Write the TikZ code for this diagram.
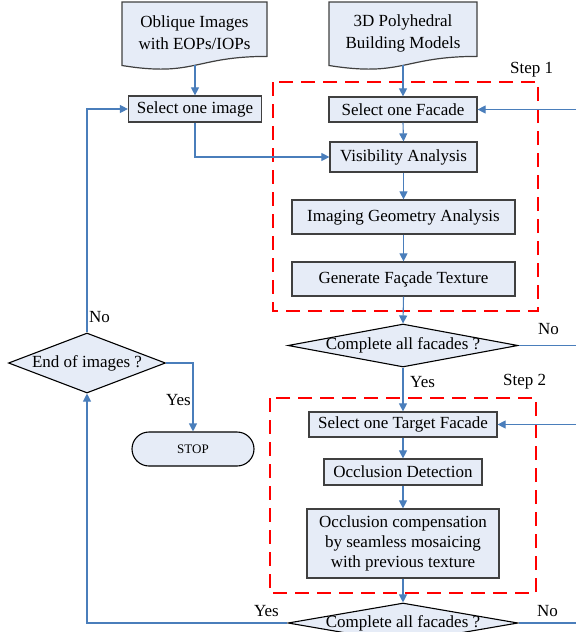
\documentclass[tikz,border=0pt]{standalone}
\usepackage{fontspec}
\setmainfont{Liberation Serif}
\usetikzlibrary{shapes.geometric,arrows.meta}
\definecolor{boxfill}{RGB}{230,236,247}
\definecolor{linkblue}{RGB}{74,126,187}
\definecolor{boxline}{RGB}{64,64,64}
\definecolor{stepred}{RGB}{255,0,0}
\tikzset{
  mainfont/.style={font=\fontsize{17}{20}\selectfont},
  proc/.style={draw=boxline, fill=boxfill, line width=1.2pt, inner sep=0pt, align=center, mainfont},
  doctext/.style={inner sep=0pt, align=center, font=\fontsize{17}{22}\selectfont},
  docshape/.style={draw=boxline, fill=boxfill, line width=1.2pt},
  dia/.style={diamond, draw=black, fill=boxfill, line width=1.1pt, inner sep=0pt},
  diatext/.style={inner sep=0pt, mainfont},
  term/.style={draw=black, fill=boxfill, line width=1.1pt, rounded corners=17pt, inner sep=0pt, font=\fontsize{13}{15}\selectfont},
  conn/.style={draw=linkblue, line width=1.1pt, -{Triangle[length=8pt,width=8pt]}},
  plainline/.style={draw=linkblue, line width=1.1pt},
  redbox/.style={draw=stepred, line width=2.6pt, dash pattern=on 14pt off 8pt},
  lab/.style={mainfont, inner sep=0pt},
}
\begin{document}
\begin{tikzpicture}[x=1pt,y=-1pt]
\useasboundingbox (0,0) rectangle (576,632);

% document shapes
\draw[docshape] (122,2) -- (267,2) -- (267,56.4) .. controls (194.5,56.4) and (194.5,77.3) .. (122,65.5) -- cycle;
\draw[docshape] (329,2) -- (477,2) -- (477,56.4) .. controls (403,56.4) and (403,77.3) .. (329,65.5) -- cycle;
\node[doctext] (docA) at (194.5,33) {Oblique Images\\with EOPs/IOPs};
\node[doctext] (docB) at (403,33) {3D Polyhedral\\Building Models};
\coordinate (docAb) at (195,65.4);
\coordinate (docBb) at (403,65.4);

% red step boxes
\draw[redbox] (273,82) rectangle (538,311);
\draw[redbox] (270,398) rectangle (536,593);
\node[lab, anchor=west] (step1) at (510,70) {Step 1};
\node[lab, anchor=west] (step2) at (503,382) {Step 2};

% process boxes
\node[proc, minimum width=133, minimum height=26] (selimg) at (195,109) {Select one image};
\node[proc, minimum width=148, minimum height=25] (selfac) at (403,109.5) {Select one Facade};
\node[proc, minimum width=147, minimum height=30] (vis) at (403.5,157) {Visibility Analysis};
\node[proc, minimum width=223, minimum height=34] (img) at (403.5,217) {Imaging Geometry Analysis};
\node[proc, minimum width=223, minimum height=34] (gen) at (403.5,279) {Generate Façade Texture};
\node[proc, minimum width=188, minimum height=25] (seltar) at (403,424.5) {Select one Target Facade};
\node[proc, minimum width=158, minimum height=26] (occ) at (403,472) {Occlusion Detection};
\node[proc, minimum width=192, minimum height=69] (comp) at (403,543.5) {Occlusion compensation\\by seamless mosaicing\\with previous texture};

% decisions
\node[dia, minimum width=230, minimum height=43] (dec1) at (403,345.5) {};
\node[diatext] (dec1t) at (403,345.5) {Complete all facades ?};
\node[dia, minimum width=230, minimum height=40] (dec2) at (403,623) {};
\node[diatext] (dec2t) at (403,623) {Complete all facades ?};
\node[dia, minimum width=157, minimum height=60] (endimg) at (87,363) {};
\node[diatext] (endimgt) at (87,363) {End of images ?};

% terminator
\node[term, minimum width=122, minimum height=34] (stop) at (193,449) {STOP};

% right edge
\coordinate (redge) at (576,0);

% connectors
\draw[conn] (docAb) -- (docAb |- selimg.north);
\draw[conn] (docBb) -- (docBb |- selfac.north);
\draw[conn] (selimg.south) |- (vis.west);
\draw[conn] (selfac.south) -- (vis.north);
\draw[conn] (vis.south) -- (img.north);
\draw[conn] (img.south) -- (gen.north);
\draw[conn] (gen.south) -- (dec1.north);
\draw[conn] (dec1.south) -- (seltar.north);
\draw[conn] (seltar.south) -- (occ.north);
\draw[conn] (occ.south) -- (comp.north);
\draw[conn] (comp.south) -- (dec2.north);
\draw[conn] (redge |- selfac.east) -- (selfac.east);
\draw[conn] (redge |- seltar.east) -- (seltar.east);
\draw[plainline] (dec1.east) -- (dec1.east -| redge);
\draw[plainline] (dec2.east) -- (dec2.east -| redge);
\draw[conn] (dec2.west) -| (endimg.south);
\draw[conn] (endimg.north) |- (selimg.west);
\draw[conn] (endimg.east) -| (stop.north);

% labels
\node[lab, anchor=west] (no1) at (89,317) {No};
\node[lab, anchor=east] (yes1) at (191,400) {Yes};
\node[lab, anchor=west] (no2) at (538,329) {No};
\node[lab, anchor=west] (yes2) at (410,382) {Yes};
\node[lab, anchor=east] (yes3) at (279,611) {Yes};
\node[lab, anchor=west] (no3) at (537,611) {No};
\end{tikzpicture}
\end{document}
